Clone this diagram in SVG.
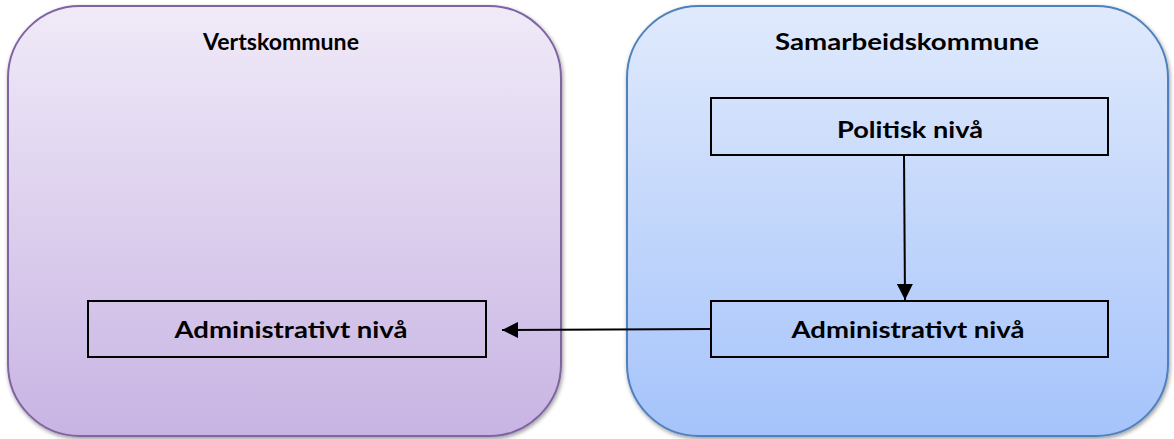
<svg xmlns="http://www.w3.org/2000/svg" width="1174" height="439" viewBox="0 0 1174 439">
<defs>
<linearGradient id="gPurple" x1="0" y1="0" x2="0" y2="1">
<stop offset="0" stop-color="#f0eaf8"/>
<stop offset="1" stop-color="#c8b4e3"/>
</linearGradient>
<linearGradient id="gBlue" x1="0" y1="0" x2="0" y2="1">
<stop offset="0" stop-color="#e0eafc"/>
<stop offset="1" stop-color="#a5c3fb"/>
</linearGradient>
<filter id="shadow" x="-5%" y="-5%" width="110%" height="110%">
<feGaussianBlur in="SourceAlpha" stdDeviation="2"/>
<feOffset dx="1" dy="2"/>
<feComponentTransfer><feFuncA type="linear" slope="0.4"/></feComponentTransfer>
<feMerge><feMergeNode/><feMergeNode in="SourceGraphic"/></feMerge>
</filter>
<marker id="arrow" viewBox="0 0 16 16" refX="16" refY="8" markerWidth="16" markerHeight="16" markerUnits="userSpaceOnUse" orient="auto">
<path d="M0,0 L16,8 L0,16 Z" fill="#000"/>
</marker>
</defs>
<style>
.title{font-family:Lato,"Open Sans","Liberation Sans",sans-serif;font-weight:bold;font-size:23px;fill:#000;text-anchor:middle}
.label{font-family:Lato,"Open Sans","Liberation Sans",sans-serif;font-weight:bold;font-size:22px;fill:#000;text-anchor:middle}
.box{fill:none;stroke:#000;stroke-width:2}
.conn{stroke:#000;stroke-width:2;fill:none}
</style>
<g id="vertskommune">
<rect x="8" y="6" width="553" height="430" rx="72" ry="72" fill="url(#gPurple)" stroke="#8064a2" stroke-width="2" filter="url(#shadow)"/>
<text class="title" x="281" y="50" textLength="156" lengthAdjust="spacingAndGlyphs">Vertskommune</text>
</g>
<g id="samarbeidskommune">
<rect x="627" y="6" width="541" height="430" rx="72" ry="72" fill="url(#gBlue)" stroke="#4f81bd" stroke-width="2" filter="url(#shadow)"/>
<text class="title" x="907" y="50" textLength="264" lengthAdjust="spacingAndGlyphs">Samarbeidskommune</text>
</g>
<g id="politisk">
<rect class="box" x="711" y="98" width="397" height="57"/>
<text class="label" x="910" y="138" textLength="146" lengthAdjust="spacingAndGlyphs">Politisk nivå</text>
</g>
<g id="admin-samarbeid">
<rect class="box" x="711" y="301" width="397" height="56"/>
<text class="label" x="908" y="338" textLength="233" lengthAdjust="spacingAndGlyphs">Administrativt nivå</text>
</g>
<g id="admin-verts">
<rect class="box" x="88" y="301" width="398" height="56"/>
<text class="label" x="291" y="338" textLength="233" lengthAdjust="spacingAndGlyphs">Administrativt nivå</text>
</g>
<g id="connectors">
<line class="conn" x1="904" y1="155" x2="905" y2="300" marker-end="url(#arrow)"/>
<line class="conn" x1="711" y1="329" x2="502" y2="330" marker-end="url(#arrow)"/>
</g>
</svg>
